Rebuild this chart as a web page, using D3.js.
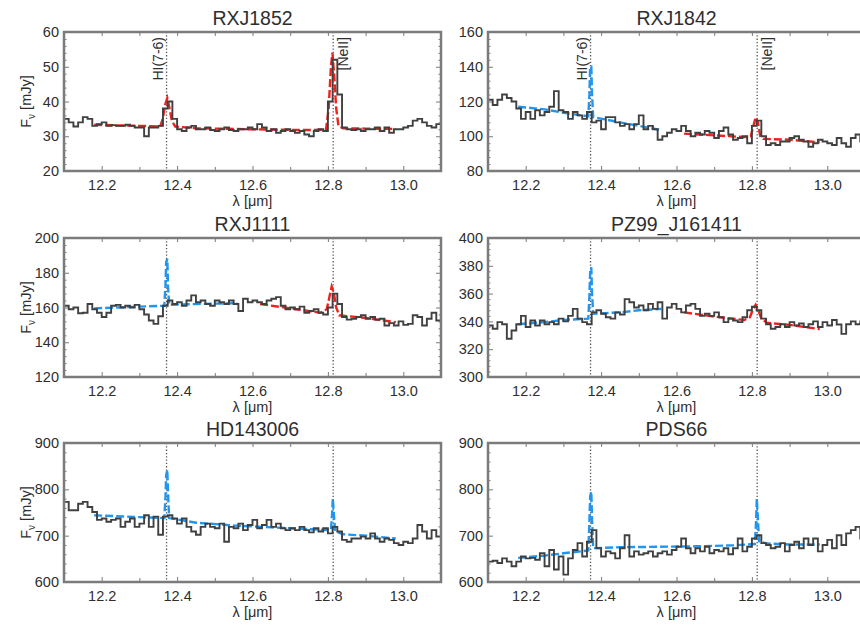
<!DOCTYPE html>
<html>
<head>
<meta charset="utf-8">
<script src="https://cdn.jsdelivr.net/npm/d3@7"></script>
<style>
body { margin: 0; background: #fff; }
svg { display: block; font-family: "Liberation Sans", Arial, Helvetica, sans-serif; }
</style>
</head>
<body>
<svg id="chart" width="860" height="630"></svg>
<script>
// wavelength bins (left edges, micron), shared by all spectra
var waveBins = [12.1000, 12.1125, 12.1250, 12.1375, 12.1500, 12.1625, 12.1750, 12.1875, 12.2000, 12.2125,
	12.2250, 12.2375, 12.2500, 12.2625, 12.2750, 12.2875, 12.3000, 12.3125, 12.3250, 12.3375,
	12.3500, 12.3625, 12.3750, 12.3875, 12.4000, 12.4125, 12.4250, 12.4375, 12.4500, 12.4625,
	12.4750, 12.4875, 12.5000, 12.5125, 12.5250, 12.5375, 12.5500, 12.5625, 12.5750, 12.5875,
	12.6000, 12.6125, 12.6250, 12.6375, 12.6500, 12.6625, 12.6750, 12.6875, 12.7000, 12.7125,
	12.7250, 12.7375, 12.7500, 12.7625, 12.7750, 12.7875, 12.8000, 12.8125, 12.8250, 12.8375,
	12.8500, 12.8625, 12.8750, 12.8875, 12.9000, 12.9125, 12.9250, 12.9375, 12.9500, 12.9625,
	12.9750, 12.9875, 13.0000, 13.0125, 13.0250, 13.0375, 13.0500, 13.0625, 13.0750, 13.0875]
var waveEnd = 13.1

var lineWaves = [12.372, 12.814]
var lineNames = ['HI(7-6)', '[NeII]']

var panelNames = ['RXJ1852', 'RXJ1842', 'RXJ1111', 'PZ99_J161411', 'HD143006', 'PDS66']

var rxj1852Flux = [35, 34, 32.8, 34, 35.5, 35, 33, 33.5, 34, 33,
	33.2, 33, 33, 33.3, 33, 32.5, 32.5, 30, 32.5, 32.5,
	33, 38, 40, 35, 32, 31.5, 32.5, 33, 32, 32,
	32.5, 31.8, 31.5, 32, 32.5, 31.8, 31.5, 32, 32, 32.5,
	32, 33.5, 32.5, 31.5, 32, 31, 31.5, 32, 31.5, 31,
	31.5, 30.5, 30, 31.5, 32, 31.5, 40, 52, 42, 32.5,
	32, 31.8, 32, 31.5, 32, 32, 32.5, 31.5, 32.5, 31,
	32, 32, 32.5, 33, 34.5, 35, 34, 33, 32.5, 33.5]

var rxj1842Flux = [121, 118, 121, 124, 122, 120, 116, 110, 114, 110,
	115, 112, 114, 117, 126, 115, 114, 110, 114, 112,
	110, 114, 108, 109, 104, 111, 111, 108, 106, 107,
	104, 107, 112, 104, 106, 104, 98, 100, 102, 104,
	103, 106, 103, 100, 102, 101, 103, 102, 99, 103,
	105, 101, 98, 99, 100, 96, 106, 109, 100, 95,
	96, 95, 97, 97, 99, 100, 98, 97, 94, 96,
	98, 97, 96, 95, 99, 96, 94, 99, 101, 97]

var rxj1111Flux = [161, 159, 160, 156.7, 157, 162, 159, 157, 154.5, 157,
	161, 161.5, 160, 161, 160, 161.5, 159, 156, 152.5, 150.6,
	155, 161, 164, 162, 163, 161, 164, 167, 163, 164,
	162, 161, 164, 163, 162, 164, 162, 158, 165, 163,
	164, 163, 162, 164, 165, 166, 161, 159, 160, 159,
	160.5, 157, 158, 159, 157, 156, 160, 168, 162, 154.5,
	153, 153.5, 154.5, 155.5, 153.5, 154.5, 153, 153.5, 149.6, 151,
	149.6, 152, 150, 150.6, 155.5, 154.5, 149.6, 153.5, 157, 152.5]

var pz99Flux = [337, 334.7, 339.5, 338, 327.5, 333.5, 338, 344, 336, 340.7,
	337, 340.7, 338, 339.5, 338, 342, 340, 344, 349, 342,
	339.5, 338, 346.5, 348, 345.5, 343, 342, 346.5, 345, 356,
	353.8, 350, 351.4, 348, 352.6, 349, 353.8, 342, 350, 352.6,
	349, 346.5, 351.4, 352.6, 349, 344, 345.5, 344, 346.5, 343,
	339.5, 342, 340.7, 339.5, 343, 348, 350.5, 348, 342, 338,
	334.7, 336, 338, 336, 339.5, 337, 338.5, 336, 338, 340,
	336, 339.5, 337, 341, 337.8, 331, 338, 340, 338, 340]

var hd143006Flux = [773, 755, 755, 769, 773, 762, 751, 734, 737, 730,
	734, 737, 719, 730, 737, 719, 726, 744, 719, 741,
	702, 741, 744, 737, 726, 737, 719, 709, 702, 719,
	726, 719, 716, 726, 687, 719, 716, 726, 712, 723,
	734, 716, 723, 734, 719, 726, 716, 712, 716, 712,
	719, 712, 707, 716, 709, 716, 705, 719, 709, 691,
	687, 694, 694, 698, 694, 705, 694, 687, 694, 691,
	684, 680, 687, 684, 694, 723, 709, 694, 712, 698]

var pds66Flux = [644, 646, 641, 651, 644, 634, 644, 655, 651, 652,
	648, 662, 634, 669, 627, 655, 616, 651, 669, 684,
	655, 687, 712, 673, 655, 666, 662, 651, 673, 701,
	655, 666, 659, 662, 666, 655, 662, 666, 659, 669,
	676, 694, 673, 662, 673, 666, 676, 662, 669, 666,
	673, 660, 673, 694, 666, 676, 694, 701, 684, 680,
	673, 676, 684, 666, 680, 687, 673, 694, 680, 694,
	666, 680, 691, 673, 701, 680, 705, 712, 719, 694]

// model fits, [wavelength, flux]
var rxj1852Red = [[12.18, 33.3], [12.25, 33.1], [12.30, 33.0], [12.355, 32.8], [12.362, 35], [12.368, 39],
	[12.374, 41], [12.380, 38], [12.386, 34.5], [12.395, 32.8], [12.45, 32.3], [12.55, 32.1], [12.65, 31.9],
	[12.75, 31.8], [12.795, 31.9], [12.802, 38], [12.808, 50], [12.812, 54], [12.817, 47], [12.822, 38],
	[12.828, 33], [12.84, 32.3], [12.90, 32.2], [12.98, 32.1]]

var rxj1842Blue = [[12.18, 117], [12.25, 115.5], [12.30, 113.5], [12.366, 111.5], [12.369, 124], [12.371, 140],
	[12.374, 140], [12.376, 124], [12.379, 111], [12.45, 108], [12.50, 106], [12.56, 103.5]]
var rxj1842Red = [[12.62, 101.5], [12.70, 100.5], [12.78, 99.5], [12.797, 100], [12.804, 106], [12.810, 111],
	[12.816, 108], [12.822, 100], [12.83, 98.5], [12.90, 98], [12.98, 96.5]]

var rxj1111Blue = [[12.18, 159.5], [12.30, 160.5], [12.366, 161], [12.369, 172], [12.371, 186], [12.374, 188],
	[12.376, 172], [12.379, 161.5], [12.45, 162], [12.56, 162.5]]
var rxj1111Red = [[12.62, 162], [12.70, 159.5], [12.78, 157], [12.797, 159], [12.804, 166], [12.810, 172],
	[12.816, 168], [12.822, 160], [12.83, 155.5], [12.90, 154], [12.98, 151.5]]

var pz99Blue = [[12.18, 338], [12.25, 339.5], [12.30, 341], [12.366, 342], [12.369, 358], [12.371, 376],
	[12.374, 379], [12.376, 360], [12.379, 345.5], [12.45, 346.5], [12.50, 348], [12.56, 349]]
var pz99Red = [[12.62, 346.5], [12.70, 343.5], [12.78, 341], [12.795, 343], [12.803, 349], [12.810, 352],
	[12.817, 348], [12.825, 342], [12.84, 339], [12.90, 337.5], [12.98, 334.5]]

var hd143006Blue = [[12.18, 744], [12.30, 740], [12.366, 738], [12.369, 780], [12.371, 830], [12.374, 842],
	[12.376, 790], [12.379, 738], [12.45, 728], [12.55, 722], [12.65, 718], [12.75, 714], [12.808, 712],
	[12.811, 745], [12.813, 780], [12.816, 745], [12.819, 710], [12.84, 703], [12.90, 700], [12.98, 694]]

var pds66Blue = [[12.18, 652], [12.25, 657], [12.30, 662], [12.366, 668], [12.369, 730], [12.371, 785],
	[12.374, 795], [12.376, 735], [12.379, 673], [12.45, 675], [12.55, 676], [12.65, 677], [12.75, 679],
	[12.808, 682], [12.811, 730], [12.813, 780], [12.816, 735], [12.819, 688], [12.84, 683], [12.90, 681],
	[12.98, 681]]

var yDomains = [[20, 60], [80, 160], [120, 200], [300, 400], [600, 900], [600, 900]]
var yMajorSteps = [10, 20, 20, 20, 100, 100]

var xMajorTicks = [12.2, 12.4, 12.6, 12.8, 13.0]
var xMinorTicks = [12.3, 12.5, 12.7, 12.9]

var RED = '#f0201c'
var BLUE = '#2196f0'

var panels = [
	{ name: panelNames[0], flux: rxj1852Flux, models: [{ pts: rxj1852Red, color: RED }], labels: true },
	{ name: panelNames[1], flux: rxj1842Flux, models: [{ pts: rxj1842Blue, color: BLUE }, { pts: rxj1842Red, color: RED }], labels: true },
	{ name: panelNames[2], flux: rxj1111Flux, models: [{ pts: rxj1111Blue, color: BLUE }, { pts: rxj1111Red, color: RED }], labels: false },
	{ name: panelNames[3], flux: pz99Flux, models: [{ pts: pz99Blue, color: BLUE }, { pts: pz99Red, color: RED }], labels: false },
	{ name: panelNames[4], flux: hd143006Flux, models: [{ pts: hd143006Blue, color: BLUE }], labels: false },
	{ name: panelNames[5], flux: pds66Flux, models: [{ pts: pds66Blue, color: BLUE }], labels: false }
]

var colLeft = [64, 488]
var rowTop = [32, 238, 443]
var plotW = 377
var plotH = 139

var frameColor = '#7b7b7b'
var textColor = '#2e2e2e'

var svg = d3.select('#chart')

function styleAxis(g) {
	g.select('.domain').remove()
	g.selectAll('.tick line').attr('stroke', frameColor).attr('stroke-width', 1)
	g.selectAll('.tick text').attr('fill', textColor).style('font-size', '14.5px')
		.style('font-family', '"Liberation Sans", Arial, sans-serif')
}

panels.forEach(function(p, i) {

	var left = colLeft[i % 2]
	var top = rowTop[Math.floor(i / 2)]
	var yDom = yDomains[i]
	var step = yMajorSteps[i]

	var x = d3.scaleLinear().domain([12.1, waveEnd]).range([0, plotW])
	var y = d3.scaleLinear().domain(yDom).range([plotH, 0])

	var yMajor = d3.range(yDom[0], yDom[1] + step / 2, step)
	var yMinor = d3.range(yDom[0], yDom[1] + step / 20, step / 5).filter(function(v) {
		return yMajor.indexOf(v) < 0
	})

	var g = svg.append('g')
		.attr('transform', 'translate(' + left + ',' + top + ')')

	var clipId = 'clip' + i
	g.append('clipPath').attr('id', clipId)
		.append('rect').attr('width', plotW).attr('height', plotH)

	// title
	g.append('text')
		.attr('x', plotW / 2)
		.attr('y', -7)
		.attr('text-anchor', 'middle')
		.attr('fill', textColor)
		.style('font-size', '19.5px')
		.text(p.name)

	// axes: ticks point inward
	g.append('g').attr('transform', 'translate(0,' + plotH + ')')
		.call(d3.axisBottom(x).tickValues(xMajorTicks).tickSize(-5).tickPadding(9).tickFormat(d3.format('.1f')))
		.call(styleAxis)
	g.append('g').attr('transform', 'translate(0,' + plotH + ')')
		.call(d3.axisBottom(x).tickValues(xMinorTicks).tickSize(-4).tickFormat(''))
		.call(styleAxis)
	g.append('g')
		.call(d3.axisTop(x).tickValues(xMajorTicks.concat(xMinorTicks)).tickSize(-4).tickFormat(''))
		.call(styleAxis)

	g.append('g')
		.call(d3.axisLeft(y).tickValues(yMajor).tickSize(-5).tickPadding(5).tickFormat(d3.format('d')))
		.call(styleAxis)
	g.append('g')
		.call(d3.axisLeft(y).tickValues(yMinor).tickSize(-2.5).tickFormat(''))
		.call(styleAxis)
	g.append('g').attr('transform', 'translate(' + plotW + ',0)')
		.call(d3.axisRight(y).tickValues(yMajor).tickSize(-5).tickFormat(''))
		.call(styleAxis)
	g.append('g').attr('transform', 'translate(' + plotW + ',0)')
		.call(d3.axisRight(y).tickValues(yMinor).tickSize(-2.5).tickFormat(''))
		.call(styleAxis)

	var body = g.append('g').attr('clip-path', 'url(#' + clipId + ')')

	// line positions
	body.selectAll('.line-mark')
		.data(lineWaves)
		.enter()
		.append('line')
		.attr('class', 'line-mark')
		.attr('x1', function(d) { return x(d) })
		.attr('x2', function(d) { return x(d) })
		.attr('y1', 0)
		.attr('y2', plotH)
		.attr('stroke', '#555')
		.attr('stroke-width', 1.3)
		.attr('stroke-dasharray', '1.3,2')

	// model fits
	var modelLine = d3.line()
		.x(function(d) { return x(d[0]) })
		.y(function(d) { return y(d[1]) })

	p.models.forEach(function(m) {
		body.append('path')
			.datum(m.pts)
			.attr('d', modelLine)
			.attr('fill', 'none')
			.attr('stroke', m.color)
			.attr('stroke-width', 2.4)
			.attr('stroke-dasharray', '8,3')
	})

	// observed spectrum, histogram style
	var specPts = waveBins.map(function(w, k) { return [w, p.flux[k]] })
	specPts.push([waveEnd, p.flux[p.flux.length - 1]])

	var specLine = d3.line()
		.curve(d3.curveStepAfter)
		.x(function(d) { return x(d[0]) })
		.y(function(d) { return y(d[1]) })

	body.append('path')
		.datum(specPts)
		.attr('d', specLine)
		.attr('fill', 'none')
		.attr('stroke', '#404040')
		.attr('stroke-width', 1.9)
		.attr('stroke-linejoin', 'miter')

	// line labels
	if (p.labels) {
		g.append('text')
			.attr('transform', 'translate(' + (x(lineWaves[0]) - 4) + ',5) rotate(-90)')
			.attr('text-anchor', 'end')
			.attr('fill', textColor)
			.style('font-size', '14px')
			.text(lineNames[0])
		g.append('text')
			.attr('transform', 'translate(' + (x(lineWaves[1]) + 15) + ',5) rotate(-90)')
			.attr('text-anchor', 'end')
			.attr('fill', textColor)
			.style('font-size', '14px')
			.text(lineNames[1])
	}

	// frame
	g.append('rect')
		.attr('width', plotW)
		.attr('height', plotH)
		.attr('fill', 'none')
		.attr('stroke', frameColor)
		.attr('stroke-width', 2.5)

	// x title
	g.append('text')
		.attr('x', plotW / 2)
		.attr('y', plotH + 35)
		.attr('text-anchor', 'middle')
		.attr('fill', textColor)
		.style('font-size', '14.5px')
		.text('λ [μm]')

	// y title, left column only
	if (i % 2 === 0) {
		var yt = g.append('text')
			.attr('transform', 'translate(-33,' + (plotH / 2) + ') rotate(-90)')
			.attr('text-anchor', 'middle')
			.attr('fill', textColor)
			.style('font-size', '14.5px')
		yt.append('tspan').text('F')
		yt.append('tspan').attr('dy', 4).style('font-size', '10px').text('ν')
		yt.append('tspan').attr('dy', -4).text(' [mJy]')
	}
})
</script>
</body>
</html>
